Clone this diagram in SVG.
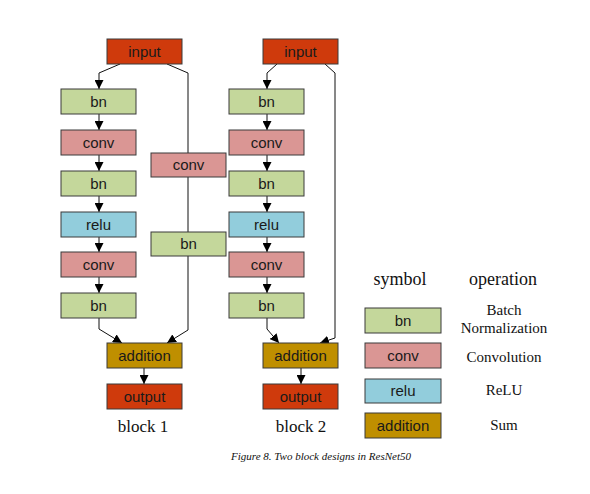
<svg xmlns="http://www.w3.org/2000/svg" width="590" height="494" viewBox="0 0 590 494">
<style>
.box{stroke:#3a3a3a;stroke-width:1}
.red{fill:#cf3a0c}.green{fill:#c4d79b}.pink{fill:#da9694}.blue{fill:#92cddc}.gold{fill:#bf8f00}
.t{font-family:"Liberation Sans",Arial,sans-serif;font-size:15px;fill:#1a1a1a;text-anchor:middle}
.s{font-family:"Liberation Serif","Times New Roman",serif;fill:#111;text-anchor:middle}
.ln{fill:none;stroke:#111;stroke-width:1}
</style>
<defs>
<marker id="ah" viewBox="0 0 10 10" refX="10" refY="5" markerWidth="9" markerHeight="9" markerUnits="userSpaceOnUse" orient="auto">
<path d="M0,0 L10,5 L0,10 Z" fill="#000"/>
</marker>
</defs>
<rect width="590" height="494" fill="#fff"/>
<g id="connectors">
<!-- block 1 -->
<polyline class="ln" points="120,64 99,73 99,89" marker-end="url(#ah)"/>
<line class="ln" x1="99" y1="114" x2="99" y2="130" marker-end="url(#ah)"/>
<line class="ln" x1="99" y1="155" x2="99" y2="171" marker-end="url(#ah)"/>
<line class="ln" x1="99" y1="196" x2="99" y2="212" marker-end="url(#ah)"/>
<line class="ln" x1="99" y1="237" x2="99" y2="252" marker-end="url(#ah)"/>
<line class="ln" x1="99" y1="277" x2="99" y2="293" marker-end="url(#ah)"/>
<polyline class="ln" points="99,318 99,329 122,343" marker-end="url(#ah)"/>
<polyline class="ln" points="167,64 188,73 188,153"/>
<line class="ln" x1="188" y1="177" x2="188" y2="232"/>
<polyline class="ln" points="188,256 188,330 167,343" marker-end="url(#ah)"/>
<line class="ln" x1="144" y1="368" x2="144" y2="384" marker-end="url(#ah)"/>
<!-- block 2 -->
<polyline class="ln" points="277,64 267,73 267,89" marker-end="url(#ah)"/>
<line class="ln" x1="267" y1="114" x2="267" y2="130" marker-end="url(#ah)"/>
<line class="ln" x1="267" y1="155" x2="267" y2="171" marker-end="url(#ah)"/>
<line class="ln" x1="267" y1="196" x2="267" y2="212" marker-end="url(#ah)"/>
<line class="ln" x1="267" y1="237" x2="267" y2="252" marker-end="url(#ah)"/>
<line class="ln" x1="267" y1="277" x2="267" y2="293" marker-end="url(#ah)"/>
<polyline class="ln" points="267,318 267,329 279,343" marker-end="url(#ah)"/>
<polyline class="ln" points="325,64 335,73 335,338 320,343" marker-end="url(#ah)"/>
<line class="ln" x1="301" y1="368" x2="301" y2="384" marker-end="url(#ah)"/>
</g>
<g id="b1-input"><rect class="box red" x="107" y="39" width="75" height="25"/><text class="t" x="144.5" y="57">input</text></g>
<g id="b1-bn1"><rect class="box green" x="61" y="89" width="75" height="25"/><text class="t" x="98.5" y="107">bn</text></g>
<g id="b1-conv1"><rect class="box pink" x="61" y="130" width="75" height="25"/><text class="t" x="98.5" y="148">conv</text></g>
<g id="b1-bn2"><rect class="box green" x="61" y="171" width="75" height="25"/><text class="t" x="98.5" y="189">bn</text></g>
<g id="b1-relu"><rect class="box blue" x="61" y="212" width="75" height="25"/><text class="t" x="98.5" y="230">relu</text></g>
<g id="b1-conv2"><rect class="box pink" x="61" y="252" width="75" height="25"/><text class="t" x="98.5" y="270">conv</text></g>
<g id="b1-bn3"><rect class="box green" x="61" y="293" width="75" height="25"/><text class="t" x="98.5" y="311">bn</text></g>
<g id="b1-sconv"><rect class="box pink" x="151" y="153" width="75" height="24"/><text class="t" x="188.5" y="170">conv</text></g>
<g id="b1-sbn"><rect class="box green" x="151" y="232" width="75" height="24"/><text class="t" x="188.5" y="249">bn</text></g>
<g id="b1-add"><rect class="box gold" x="107" y="343" width="75" height="25"/><text class="t" x="144.5" y="361">addition</text></g>
<g id="b1-output"><rect class="box red" x="107" y="384" width="75" height="25"/><text class="t" x="144.5" y="402">output</text></g>
<text class="s" x="143" y="432" font-size="17">block 1</text>

<g id="b2-input"><rect class="box red" x="263" y="39" width="75" height="25"/><text class="t" x="300.5" y="57">input</text></g>
<g id="b2-bn1"><rect class="box green" x="229" y="89" width="75" height="25"/><text class="t" x="266.5" y="107">bn</text></g>
<g id="b2-conv1"><rect class="box pink" x="229" y="130" width="75" height="25"/><text class="t" x="266.5" y="148">conv</text></g>
<g id="b2-bn2"><rect class="box green" x="229" y="171" width="75" height="25"/><text class="t" x="266.5" y="189">bn</text></g>
<g id="b2-relu"><rect class="box blue" x="229" y="212" width="75" height="25"/><text class="t" x="266.5" y="230">relu</text></g>
<g id="b2-conv2"><rect class="box pink" x="229" y="252" width="75" height="25"/><text class="t" x="266.5" y="270">conv</text></g>
<g id="b2-bn3"><rect class="box green" x="229" y="293" width="75" height="25"/><text class="t" x="266.5" y="311">bn</text></g>
<g id="b2-add"><rect class="box gold" x="263" y="343" width="75" height="25"/><text class="t" x="300.5" y="361">addition</text></g>
<g id="b2-output"><rect class="box red" x="263" y="384" width="75" height="25"/><text class="t" x="300.5" y="402">output</text></g>
<text class="s" x="301" y="432" font-size="17">block 2</text>

<g id="legend">
<text class="s" x="400" y="285" font-size="18">symbol</text>
<text class="s" x="503" y="285" font-size="18">operation</text>
<rect class="box green" x="365" y="308" width="76" height="25"/><text class="t" x="403" y="326">bn</text>
<rect class="box pink" x="365" y="343" width="76" height="25"/><text class="t" x="403" y="361">conv</text>
<rect class="box blue" x="365" y="379" width="76" height="24"/><text class="t" x="403" y="396">relu</text>
<rect class="box gold" x="365" y="413" width="76" height="25"/><text class="t" x="403" y="431">addition</text>
<text class="s" x="504" y="315" font-size="15">Batch</text>
<text class="s" x="504" y="333" font-size="15">Normalization</text>
<text class="s" x="504" y="362" font-size="15">Convolution</text>
<text class="s" x="504" y="395" font-size="15">ReLU</text>
<text class="s" x="504" y="430" font-size="15">Sum</text>
</g>
<text class="s" x="321" y="460" font-size="11" font-style="italic">Figure 8. Two block designs in ResNet50</text>
</svg>
